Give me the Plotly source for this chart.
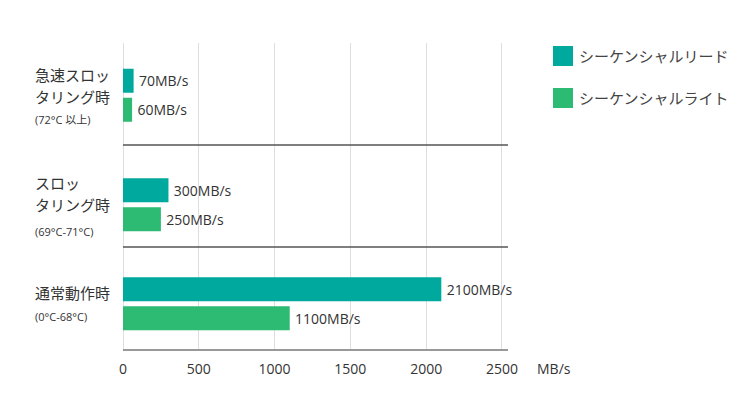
import plotly.graph_objects as go

# ---- data ----
categories = ["急速スロットリング時", "スロットリング時", "通常動作時"]
label_lines = [["急速スロッ", "タリング時"], ["スロッ", "タリング時"], ["通常動作時"]]
sub_labels = ["(72°C 以上)", "(69°C-71°C)", "(0°C-68°C)"]
series_names = ["シーケンシャルリード", "シーケンシャルライト"]
read_values = [70, 300, 2100]
write_values = [60, 250, 1100]
x_ticks = [0, 500, 1000, 1500, 2000, 2500]
unit = "MB/s"
colors = ["#00a99d", "#2dba72"]

W, H = 751, 401
ML, MR, MT, MB = 123, 243, 43, 52
PW = W - ML - MR
PH = H - MT - MB
PX_PER_ROW = 105.0
ROW0_PX = 95.25

def px(xp):
    return (xp - ML) / PW

def py(yp):
    return 1 - (yp - MT) / PH

FONT = "Open Sans, Noto Sans CJK JP, sans-serif"
row_pos = [0, 1.043, 1.986]          # category row positions on the y axis
bar_w = 24 / PX_PER_ROW
half_gap = 14.5 / PX_PER_ROW
offsets = [-half_gap - bar_w / 2, half_gap - bar_w / 2]

fig = go.Figure()
for name, vals, col, off in zip(series_names, [read_values, write_values], colors, offsets):
    fig.add_trace(go.Bar(
        y=row_pos, x=vals, orientation="h", name=name,
        width=bar_w, offset=off,
        marker=dict(color=col, line=dict(width=0)),
        text=[f"\u2009{v}{unit}" for v in vals], textposition="outside",
        textfont=dict(size=14, color="#333", family=FONT),
        cliponaxis=False, showlegend=False,
    ))

y_top = (MT - ROW0_PX) / PX_PER_ROW
y_bot = (H - MB - ROW0_PX) / PX_PER_ROW

fig.update_layout(
    width=W, height=H,
    margin=dict(l=ML, r=MR, t=MT, b=MB, pad=0),
    paper_bgcolor="white", plot_bgcolor="white",
    barmode="overlay",
    font=dict(family=FONT, color="#333"),
    xaxis=dict(range=[0, 2540], tickvals=x_ticks, ticktext=[str(t) for t in x_ticks],
               showgrid=True, gridcolor="#dedede", gridwidth=1,
               zeroline=True, zerolinecolor="#dedede", zerolinewidth=1,
               showline=True, linecolor="#999", linewidth=2,
               ticks="", ticklabelstandoff=6,
               tickfont=dict(size=14, color="#333")),
    yaxis=dict(range=[y_bot, y_top], showticklabels=False, showgrid=False,
               zeroline=False, showline=False, ticks=""),
)

# separators between categories
for yp in [145, 247]:
    fig.add_shape(type="line", xref="paper", yref="paper", x0=0, x1=1,
                  y0=py(yp), y1=py(yp), line=dict(color="#555", width=1.5))

# category labels
main_px = [[75, 97], [183, 205], [293]]
sub_px = [119, 231, 316]
for i in range(len(categories)):
    for line, yp in zip(label_lines[i], main_px[i]):
        fig.add_annotation(xref="paper", yref="paper", x=px(33), y=py(yp),
                           xanchor="left", yanchor="middle", showarrow=False,
                           text=line, font=dict(size=15, color="#333", family=FONT))
    fig.add_annotation(xref="paper", yref="paper", x=px(33), y=py(sub_px[i]),
                       xanchor="left", yanchor="middle", showarrow=False,
                       text=sub_labels[i], font=dict(size=11, color="#333", family=FONT))

# unit label
fig.add_annotation(xref="paper", yref="paper", x=px(535), y=py(368), xanchor="left",
                   yanchor="middle", showarrow=False, text=unit,
                   font=dict(size=14, color="#333", family=FONT))

# custom legend
for k, (name, col) in enumerate(zip(series_names, colors)):
    top = 46 + 42 * k
    fig.add_shape(type="rect", xref="paper", yref="paper", x0=px(553), x1=px(573),
                  y0=py(top + 20), y1=py(top), fillcolor=col, line=dict(width=0))
    fig.add_annotation(xref="paper", yref="paper", x=px(577), y=py(top + 10),
                       xanchor="left", yanchor="middle", showarrow=False, text=name,
                       font=dict(size=15, color="#444", family=FONT))

fig.write_html("out.html")
